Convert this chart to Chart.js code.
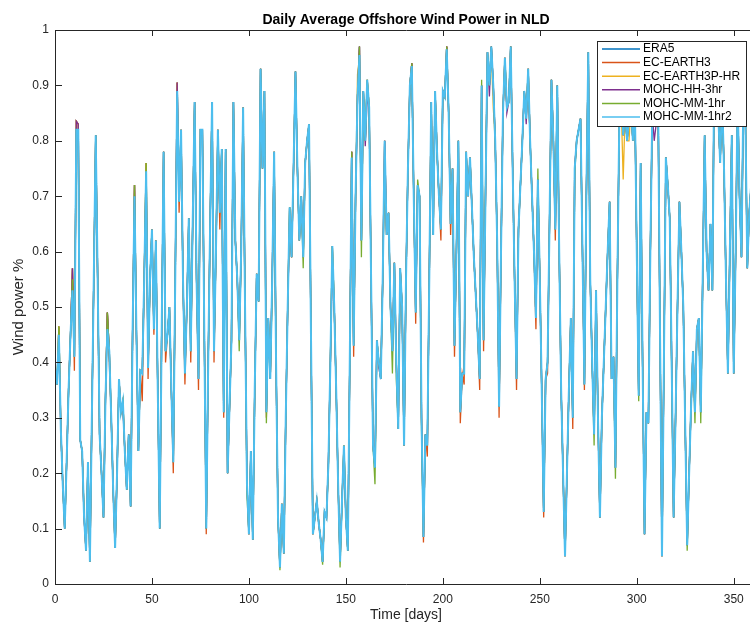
<!DOCTYPE html>
<html>
<head>
<meta charset="utf-8">
<title>Daily Average Offshore Wind Power in NLD</title>
<script src="https://cdn.jsdelivr.net/npm/chart.js@4.4.0/dist/chart.umd.min.js"></script>
<style>
    html, body { margin: 0; padding: 0; background: #ffffff; overflow: hidden; }
    #wrap { position: relative; width: 760px; height: 624px; }
</style>
</head>
<body>
<div id="wrap"><canvas id="windChart"></canvas></div>
<script>
const seriesNames = ['ERA5', 'EC-EARTH3', 'EC-EARTH3P-HR', 'MOHC-HH-3hr', 'MOHC-MM-1hr', 'MOHC-MM-1hr2'];
const seriesColors = ['#0072BD', '#D95319', '#EDB120', '#7E2F8E', '#77AC30', '#4DBEEE'];
const xTickValues = [0, 50, 100, 150, 200, 250, 300, 350];
const yTickLabels = ['0', '0.1', '0.2', '0.3', '0.4', '0.5', '0.6', '0.7', '0.8', '0.9', '1'];
const chartTitle = 'Daily Average Offshore Wind Power in NLD';

const era5 = [
    0.39,0.36,0.465,0.28,0.18,0.10,0.22,0.35,0.45,0.57,
    0.41,0.835,0.83,0.26,0.24,0.12,0.06,0.22,0.04,0.30,
    0.55,0.81,0.55,0.27,0.20,0.12,0.33,0.49,0.42,0.30,
    0.17,0.065,0.20,0.37,0.31,0.33,0.24,0.17,0.27,0.14,
    0.45,0.72,0.45,0.24,0.385,0.38,0.55,0.76,0.39,0.55,
    0.64,0.46,0.62,0.35,0.10,0.45,0.78,0.42,0.45,0.50,
    0.35,0.22,0.55,0.905,0.69,0.82,0.55,0.38,0.50,0.66,
    0.42,0.65,0.87,0.55,0.37,0.82,0.82,0.45,0.10,0.40,
    0.65,0.87,0.42,0.60,0.82,0.67,0.785,0.31,0.785,0.20,
    0.32,0.44,0.87,0.62,0.55,0.44,0.60,0.86,0.50,0.18,
    0.09,0.24,0.08,0.35,0.56,0.51,0.93,0.75,0.89,0.31,
    0.48,0.37,0.55,0.78,0.40,0.12,0.03,0.145,0.055,0.30,
    0.50,0.68,0.59,0.75,0.925,0.75,0.62,0.70,0.59,0.76,
    0.80,0.83,0.45,0.09,0.12,0.15,0.11,0.08,0.04,0.13,
    0.12,0.22,0.40,0.61,0.50,0.35,0.18,0.04,0.15,0.25,
    0.12,0.06,0.40,0.78,0.43,0.70,0.88,0.97,0.62,0.89,
    0.80,0.91,0.86,0.55,0.25,0.21,0.44,0.40,0.37,0.55,
    0.80,0.63,0.67,0.50,0.42,0.58,0.40,0.28,0.57,0.50,
    0.25,0.55,0.75,0.90,0.94,0.70,0.49,0.72,0.70,0.30,
    0.085,0.27,0.25,0.55,0.87,0.63,0.89,0.78,0.70,0.64,
    0.89,0.88,0.97,0.85,0.65,0.75,0.43,0.60,0.80,0.31,
    0.38,0.38,0.78,0.70,0.77,0.68,0.59,0.52,0.45,0.37,
    0.90,0.44,0.70,0.96,0.90,0.97,0.90,0.80,0.62,0.32,
    0.60,0.85,0.95,0.86,0.87,0.97,0.75,0.55,0.37,0.64,
    0.72,0.80,0.89,0.84,0.93,0.80,0.70,0.60,0.48,0.73,
    0.55,0.35,0.13,0.37,0.40,0.65,0.91,0.80,0.64,0.90,
    0.60,0.35,0.20,0.05,0.20,0.35,0.48,0.30,0.75,0.80,
    0.82,0.84,0.60,0.36,0.70,0.96,0.55,0.40,0.27,0.53,
    0.30,0.12,0.30,0.40,0.50,0.60,0.69,0.37,0.41,0.21,
    0.55,0.84,0.90,0.81,0.85,0.80,0.84,0.86,0.80,0.87,
    0.60,0.34,0.76,0.40,0.09,0.31,0.29,0.60,0.85,0.83,
    0.83,0.87,0.45,0.05,0.40,0.77,0.72,0.66,0.40,0.12,
    0.30,0.50,0.69,0.60,0.50,0.28,0.07,0.20,0.32,0.42,
    0.31,0.46,0.48,0.31,0.55,0.81,0.60,0.53,0.65,0.53,
    0.95,0.92,0.85,0.76,0.88,0.75,0.55,0.38,0.60,0.81,
    0.38,0.60,0.88,0.70,0.59,0.89,0.85,0.57,0.67,0.72,0.65
];

const ecEarth3 = [
    0.39,0.36,0.465,0.28,0.18,0.10,0.22,0.35,0.45,0.57,
    0.385,0.835,0.83,0.26,0.24,0.12,0.06,0.22,0.04,0.30,
    0.55,0.81,0.55,0.27,0.20,0.12,0.33,0.49,0.40,0.30,
    0.17,0.065,0.20,0.37,0.31,0.33,0.24,0.17,0.27,0.14,
    0.45,0.72,0.45,0.24,0.385,0.33,0.55,0.76,0.37,0.55,
    0.64,0.45,0.62,0.35,0.10,0.45,0.78,0.40,0.45,0.50,
    0.35,0.20,0.55,0.905,0.67,0.82,0.55,0.36,0.50,0.66,
    0.40,0.65,0.87,0.55,0.35,0.82,0.82,0.45,0.09,0.40,
    0.65,0.87,0.40,0.60,0.82,0.64,0.785,0.30,0.785,0.20,
    0.32,0.44,0.87,0.62,0.55,0.44,0.60,0.86,0.50,0.18,
    0.09,0.24,0.08,0.35,0.56,0.51,0.93,0.75,0.89,0.30,
    0.48,0.37,0.55,0.78,0.40,0.12,0.03,0.145,0.055,0.30,
    0.50,0.68,0.59,0.75,0.925,0.75,0.62,0.70,0.59,0.76,
    0.80,0.83,0.45,0.09,0.12,0.15,0.11,0.08,0.04,0.13,
    0.12,0.22,0.40,0.61,0.50,0.35,0.18,0.04,0.15,0.25,
    0.12,0.06,0.40,0.78,0.41,0.70,0.88,0.97,0.62,0.89,
    0.80,0.91,0.86,0.55,0.25,0.21,0.44,0.40,0.37,0.55,
    0.80,0.63,0.67,0.50,0.42,0.58,0.40,0.28,0.57,0.50,
    0.25,0.55,0.75,0.90,0.94,0.70,0.47,0.72,0.70,0.30,
    0.075,0.27,0.23,0.55,0.87,0.63,0.89,0.78,0.70,0.62,
    0.89,0.88,0.97,0.85,0.63,0.75,0.41,0.60,0.80,0.29,
    0.38,0.36,0.78,0.70,0.77,0.68,0.59,0.52,0.45,0.35,
    0.90,0.42,0.70,0.96,0.90,0.97,0.90,0.80,0.62,0.30,
    0.60,0.85,0.95,0.86,0.87,0.97,0.75,0.55,0.35,0.64,
    0.72,0.80,0.89,0.84,0.93,0.80,0.70,0.60,0.46,0.73,
    0.55,0.35,0.12,0.37,0.38,0.65,0.91,0.80,0.62,0.90,
    0.60,0.35,0.20,0.05,0.20,0.35,0.48,0.28,0.75,0.80,
    0.82,0.84,0.60,0.35,0.70,0.96,0.55,0.40,0.27,0.53,
    0.30,0.12,0.30,0.40,0.50,0.60,0.69,0.37,0.41,0.21,
    0.55,0.84,0.90,0.81,0.85,0.80,0.84,0.86,0.80,0.87,
    0.60,0.34,0.76,0.40,0.09,0.31,0.29,0.60,0.85,0.83,
    0.83,0.87,0.45,0.05,0.40,0.77,0.72,0.66,0.40,0.12,
    0.30,0.50,0.69,0.60,0.50,0.28,0.07,0.20,0.32,0.42,
    0.31,0.46,0.48,0.31,0.55,0.81,0.60,0.53,0.65,0.53,
    0.95,0.92,0.85,0.76,0.88,0.75,0.55,0.38,0.60,0.81,
    0.38,0.60,0.88,0.70,0.59,0.89,0.85,0.57,0.67,0.72,0.65
];

const ecEarth3pHr = [
    0.39,0.36,0.465,0.28,0.18,0.10,0.22,0.35,0.45,0.57,
    0.41,0.835,0.83,0.26,0.24,0.12,0.06,0.22,0.04,0.30,
    0.55,0.81,0.55,0.27,0.20,0.12,0.33,0.49,0.42,0.30,
    0.17,0.065,0.20,0.37,0.31,0.33,0.24,0.17,0.27,0.14,
    0.45,0.72,0.45,0.24,0.385,0.38,0.55,0.76,0.39,0.55,
    0.64,0.46,0.62,0.35,0.10,0.45,0.78,0.42,0.45,0.50,
    0.35,0.22,0.55,0.905,0.69,0.82,0.55,0.38,0.50,0.66,
    0.42,0.65,0.87,0.55,0.37,0.82,0.82,0.45,0.10,0.40,
    0.65,0.87,0.42,0.60,0.82,0.67,0.785,0.31,0.785,0.20,
    0.32,0.44,0.87,0.62,0.55,0.44,0.60,0.86,0.50,0.18,
    0.09,0.24,0.08,0.35,0.56,0.51,0.93,0.75,0.89,0.31,
    0.48,0.37,0.55,0.78,0.40,0.12,0.03,0.145,0.055,0.30,
    0.50,0.68,0.59,0.75,0.925,0.75,0.62,0.70,0.59,0.76,
    0.80,0.83,0.45,0.09,0.12,0.15,0.11,0.08,0.04,0.13,
    0.12,0.22,0.40,0.61,0.50,0.35,0.18,0.04,0.15,0.25,
    0.12,0.06,0.40,0.78,0.43,0.70,0.92,0.95,0.62,0.89,
    0.80,0.91,0.86,0.55,0.25,0.21,0.44,0.40,0.37,0.55,
    0.80,0.63,0.67,0.50,0.42,0.58,0.40,0.28,0.57,0.50,
    0.25,0.55,0.75,0.90,0.94,0.70,0.49,0.72,0.70,0.30,
    0.085,0.27,0.25,0.55,0.87,0.63,0.89,0.78,0.70,0.64,
    0.89,0.88,0.97,0.85,0.65,0.75,0.43,0.60,0.80,0.31,
    0.38,0.38,0.78,0.70,0.77,0.68,0.59,0.52,0.45,0.37,
    0.90,0.44,0.70,0.96,0.90,0.96,0.86,0.80,0.62,0.32,
    0.60,0.85,0.95,0.86,0.87,0.97,0.75,0.55,0.37,0.64,
    0.72,0.80,0.89,0.84,0.93,0.80,0.70,0.60,0.48,0.73,
    0.55,0.35,0.13,0.37,0.40,0.65,0.91,0.80,0.64,0.90,
    0.60,0.35,0.20,0.05,0.20,0.35,0.48,0.30,0.75,0.80,
    0.82,0.84,0.60,0.36,0.70,0.96,0.55,0.40,0.27,0.53,
    0.30,0.12,0.30,0.40,0.50,0.60,0.69,0.37,0.41,0.21,
    0.55,0.84,0.86,0.73,0.85,0.80,0.80,0.86,0.80,0.87,
    0.60,0.34,0.76,0.40,0.09,0.31,0.29,0.60,0.85,0.83,
    0.83,0.87,0.45,0.05,0.40,0.77,0.72,0.66,0.40,0.12,
    0.30,0.50,0.69,0.60,0.50,0.28,0.07,0.20,0.32,0.42,
    0.31,0.46,0.48,0.31,0.55,0.81,0.60,0.53,0.65,0.53,
    0.95,0.92,0.85,0.76,0.88,0.75,0.55,0.38,0.60,0.81,
    0.38,0.60,0.88,0.70,0.59,0.89,0.85,0.57,0.67,0.70,0.65
];

const mohcHH3hr = [
    0.39,0.36,0.44,0.28,0.18,0.10,0.22,0.35,0.45,0.57,
    0.41,0.835,0.83,0.26,0.24,0.12,0.06,0.22,0.04,0.30,
    0.55,0.81,0.55,0.27,0.20,0.12,0.33,0.49,0.42,0.30,
    0.17,0.065,0.20,0.37,0.31,0.32,0.24,0.17,0.27,0.14,
    0.45,0.72,0.45,0.24,0.385,0.38,0.55,0.74,0.39,0.55,
    0.64,0.46,0.62,0.35,0.10,0.45,0.78,0.42,0.45,0.50,
    0.35,0.22,0.55,0.905,0.69,0.82,0.55,0.38,0.50,0.66,
    0.42,0.65,0.87,0.55,0.37,0.82,0.82,0.45,0.10,0.40,
    0.65,0.87,0.42,0.60,0.82,0.67,0.785,0.31,0.785,0.20,
    0.32,0.44,0.87,0.62,0.55,0.44,0.60,0.86,0.50,0.18,
    0.09,0.24,0.08,0.35,0.56,0.51,0.93,0.75,0.89,0.31,
    0.48,0.37,0.55,0.78,0.40,0.12,0.03,0.145,0.055,0.30,
    0.50,0.66,0.59,0.75,0.925,0.75,0.62,0.70,0.59,0.76,
    0.80,0.83,0.45,0.09,0.12,0.15,0.11,0.08,0.04,0.13,
    0.12,0.22,0.40,0.58,0.50,0.35,0.18,0.04,0.15,0.24,
    0.12,0.06,0.40,0.78,0.43,0.70,0.88,0.97,0.62,0.89,
    0.79,0.88,0.86,0.55,0.25,0.21,0.44,0.39,0.37,0.55,
    0.80,0.63,0.67,0.50,0.42,0.58,0.40,0.28,0.57,0.50,
    0.25,0.55,0.75,0.90,0.94,0.70,0.49,0.72,0.70,0.30,
    0.085,0.27,0.25,0.55,0.87,0.63,0.89,0.78,0.70,0.64,
    0.89,0.88,0.97,0.85,0.65,0.75,0.43,0.60,0.80,0.31,
    0.38,0.38,0.78,0.70,0.77,0.68,0.59,0.52,0.45,0.37,
    0.90,0.44,0.70,0.96,0.88,0.97,0.90,0.80,0.62,0.32,
    0.60,0.85,0.95,0.85,0.87,0.97,0.75,0.55,0.37,0.64,
    0.72,0.80,0.89,0.83,0.93,0.80,0.70,0.60,0.48,0.73,
    0.55,0.35,0.13,0.37,0.40,0.65,0.91,0.80,0.64,0.90,
    0.60,0.35,0.20,0.05,0.20,0.35,0.48,0.30,0.75,0.80,
    0.82,0.84,0.60,0.36,0.70,0.96,0.55,0.40,0.27,0.53,
    0.30,0.12,0.30,0.40,0.50,0.60,0.69,0.37,0.41,0.21,
    0.55,0.84,0.90,0.81,0.85,0.80,0.84,0.86,0.80,0.87,
    0.60,0.34,0.76,0.40,0.09,0.31,0.29,0.60,0.85,0.80,
    0.83,0.87,0.45,0.05,0.40,0.77,0.72,0.66,0.40,0.12,
    0.30,0.50,0.69,0.60,0.50,0.28,0.07,0.20,0.32,0.42,
    0.31,0.46,0.48,0.31,0.55,0.81,0.60,0.53,0.65,0.53,
    0.95,0.92,0.85,0.76,0.88,0.75,0.55,0.38,0.60,0.81,
    0.38,0.60,0.88,0.70,0.59,0.89,0.85,0.57,0.67,0.72,0.65
];

const mohcMM1hr = [
    0.39,0.36,0.465,0.28,0.18,0.10,0.22,0.35,0.45,0.55,
    0.41,0.82,0.82,0.26,0.24,0.13,0.06,0.22,0.04,0.30,
    0.55,0.81,0.55,0.27,0.20,0.12,0.33,0.49,0.42,0.30,
    0.17,0.065,0.20,0.37,0.31,0.33,0.24,0.17,0.27,0.14,
    0.45,0.72,0.45,0.24,0.385,0.38,0.55,0.76,0.39,0.55,
    0.64,0.46,0.62,0.35,0.10,0.45,0.78,0.42,0.45,0.50,
    0.35,0.22,0.55,0.88,0.69,0.82,0.55,0.38,0.50,0.66,
    0.42,0.65,0.87,0.55,0.37,0.82,0.82,0.45,0.10,0.40,
    0.65,0.87,0.42,0.60,0.82,0.67,0.785,0.31,0.785,0.20,
    0.32,0.44,0.87,0.62,0.55,0.42,0.60,0.86,0.50,0.16,
    0.09,0.24,0.08,0.35,0.56,0.51,0.93,0.75,0.89,0.29,
    0.48,0.37,0.53,0.78,0.40,0.12,0.025,0.145,0.055,0.30,
    0.50,0.68,0.59,0.75,0.925,0.75,0.62,0.70,0.57,0.76,
    0.80,0.83,0.45,0.09,0.12,0.15,0.11,0.08,0.035,0.13,
    0.12,0.21,0.40,0.61,0.50,0.35,0.18,0.03,0.15,0.25,
    0.12,0.06,0.40,0.78,0.43,0.70,0.88,0.97,0.59,0.89,
    0.80,0.91,0.86,0.55,0.25,0.18,0.44,0.40,0.37,0.55,
    0.77,0.63,0.67,0.50,0.38,0.58,0.37,0.28,0.57,0.50,
    0.25,0.55,0.75,0.90,0.94,0.70,0.49,0.73,0.70,0.28,
    0.085,0.27,0.25,0.55,0.87,0.63,0.89,0.78,0.70,0.64,
    0.89,0.88,0.97,0.85,0.65,0.75,0.43,0.60,0.80,0.31,
    0.38,0.38,0.78,0.70,0.77,0.68,0.59,0.52,0.45,0.37,
    0.91,0.44,0.72,0.96,0.90,0.97,0.90,0.80,0.62,0.32,
    0.60,0.85,0.95,0.86,0.87,0.97,0.75,0.55,0.37,0.64,
    0.72,0.80,0.89,0.84,0.93,0.80,0.70,0.60,0.48,0.75,
    0.55,0.35,0.13,0.37,0.40,0.65,0.91,0.80,0.64,0.90,
    0.60,0.35,0.20,0.05,0.20,0.35,0.48,0.30,0.74,0.80,
    0.82,0.84,0.60,0.36,0.70,0.96,0.55,0.40,0.25,0.53,
    0.30,0.12,0.30,0.40,0.50,0.60,0.69,0.37,0.41,0.19,
    0.55,0.84,0.90,0.81,0.85,0.80,0.84,0.86,0.80,0.87,
    0.60,0.33,0.76,0.40,0.09,0.31,0.29,0.60,0.85,0.83,
    0.83,0.87,0.45,0.05,0.40,0.77,0.72,0.66,0.38,0.12,
    0.30,0.50,0.69,0.60,0.50,0.28,0.06,0.20,0.32,0.42,
    0.29,0.46,0.48,0.29,0.55,0.81,0.60,0.53,0.65,0.53,
    0.95,0.92,0.85,0.76,0.88,0.75,0.55,0.38,0.60,0.81,
    0.38,0.60,0.88,0.70,0.59,0.89,0.85,0.57,0.67,0.72,0.65
];

const mohcMM1hr2 = [
    0.39,0.36,0.45,0.28,0.18,0.10,0.22,0.35,0.45,0.53,
    0.41,0.82,0.82,0.26,0.24,0.12,0.06,0.22,0.04,0.30,
    0.55,0.81,0.55,0.27,0.20,0.12,0.33,0.46,0.42,0.30,
    0.17,0.065,0.20,0.37,0.31,0.33,0.24,0.17,0.27,0.14,
    0.45,0.70,0.45,0.24,0.385,0.38,0.55,0.745,0.39,0.55,
    0.64,0.46,0.62,0.35,0.10,0.45,0.78,0.42,0.45,0.50,
    0.35,0.22,0.55,0.89,0.69,0.82,0.55,0.38,0.50,0.66,
    0.42,0.65,0.87,0.55,0.37,0.82,0.82,0.45,0.10,0.40,
    0.65,0.87,0.42,0.60,0.82,0.67,0.785,0.31,0.785,0.20,
    0.32,0.44,0.87,0.62,0.55,0.44,0.60,0.86,0.50,0.18,
    0.09,0.24,0.08,0.35,0.56,0.51,0.93,0.75,0.89,0.31,
    0.48,0.37,0.55,0.78,0.40,0.12,0.03,0.145,0.055,0.30,
    0.50,0.68,0.59,0.75,0.925,0.75,0.62,0.70,0.59,0.76,
    0.80,0.83,0.45,0.09,0.12,0.15,0.11,0.08,0.04,0.13,
    0.12,0.22,0.40,0.61,0.50,0.35,0.18,0.04,0.15,0.25,
    0.12,0.06,0.40,0.77,0.43,0.70,0.88,0.955,0.62,0.89,
    0.80,0.91,0.86,0.55,0.25,0.21,0.44,0.40,0.37,0.55,
    0.80,0.63,0.67,0.50,0.42,0.58,0.40,0.28,0.57,0.50,
    0.25,0.55,0.75,0.90,0.935,0.70,0.49,0.72,0.70,0.30,
    0.085,0.27,0.25,0.55,0.87,0.63,0.89,0.78,0.70,0.64,
    0.89,0.88,0.965,0.85,0.65,0.75,0.43,0.60,0.80,0.31,
    0.38,0.38,0.78,0.70,0.77,0.68,0.59,0.52,0.45,0.37,
    0.90,0.44,0.70,0.96,0.90,0.97,0.90,0.80,0.62,0.32,
    0.60,0.85,0.95,0.86,0.87,0.97,0.75,0.55,0.37,0.64,
    0.72,0.80,0.89,0.84,0.93,0.80,0.70,0.60,0.48,0.73,
    0.55,0.35,0.13,0.37,0.40,0.65,0.91,0.80,0.64,0.90,
    0.60,0.35,0.20,0.05,0.20,0.35,0.48,0.30,0.75,0.80,
    0.82,0.84,0.60,0.36,0.70,0.96,0.55,0.40,0.27,0.53,
    0.30,0.12,0.30,0.40,0.50,0.60,0.69,0.37,0.41,0.21,
    0.55,0.84,0.90,0.81,0.85,0.80,0.84,0.86,0.80,0.87,
    0.60,0.34,0.76,0.40,0.09,0.31,0.29,0.60,0.85,0.83,
    0.83,0.87,0.45,0.05,0.40,0.77,0.72,0.66,0.40,0.12,
    0.30,0.50,0.69,0.60,0.50,0.28,0.07,0.20,0.32,0.42,
    0.31,0.46,0.48,0.31,0.55,0.81,0.60,0.53,0.65,0.53,
    0.95,0.92,0.85,0.76,0.88,0.75,0.55,0.38,0.60,0.81,
    0.38,0.60,0.88,0.70,0.59,0.89,0.85,0.57,0.67,0.72,0.65
];

const allSeries = [era5, ecEarth3, ecEarth3pHr, mohcHH3hr, mohcMM1hr, mohcMM1hr2];
const days = era5.map((v, i) => i);

const FONT = "'Liberation Sans', Arial, Helvetica, sans-serif";
const TXT = '#262626';

// box round the axes, inward ticks, title and the legend box (matlab style)
const matlabBox = {
    id: 'matlabBox',
    afterDatasetsDraw(chart) {
        const ctx = chart.ctx;
        const a = chart.chartArea;
        const xs = chart.scales.x, ys = chart.scales.y;
        ctx.save();
        ctx.strokeStyle = TXT;
        ctx.lineWidth = 1;
        ctx.beginPath();
        ctx.moveTo(a.left + 0.5, a.bottom + 0.5);
        ctx.lineTo(a.left + 0.5, a.top + 0.5);
        ctx.lineTo(a.right + 0.5, a.top + 0.5);
        ctx.lineTo(a.right + 0.5, a.bottom + 0.5);
        ctx.lineTo(a.left + 0.5, a.bottom + 0.5);
        xs.ticks.forEach(t => {
            const px = Math.round(xs.getPixelForValue(t.value)) + 0.5;
            ctx.moveTo(px, a.bottom); ctx.lineTo(px, a.bottom - 6);
            ctx.moveTo(px, a.top); ctx.lineTo(px, a.top + 6);
        });
        ys.ticks.forEach(t => {
            const py = Math.round(ys.getPixelForValue(t.value)) + 0.5;
            ctx.moveTo(a.left, py); ctx.lineTo(a.left + 7, py);
            ctx.moveTo(a.right, py); ctx.lineTo(a.right - 7, py);
        });
        ctx.stroke();

        // title, centred over the axes
        ctx.fillStyle = '#000000';
        ctx.font = 'bold 14px ' + FONT;
        ctx.textAlign = 'center';
        ctx.textBaseline = 'alphabetic';
        ctx.fillText(chartTitle, (a.left + a.right) / 2, 24);

        // legend
        const lx = 597, ly = 41, lw = 149, lh = 85;
        ctx.fillStyle = '#ffffff';
        ctx.fillRect(lx, ly, lw, lh);
        ctx.strokeStyle = TXT;
        ctx.strokeRect(lx + 0.5, ly + 0.5, lw, lh);
        ctx.font = '12px ' + FONT;
        ctx.textBaseline = 'middle';
        ctx.textAlign = 'left';
        chart.data.datasets.forEach((ds, i) => {
            const yy = ly + 8 + i * 13.6;
            ctx.strokeStyle = ds.borderColor;
            ctx.lineWidth = 1.5;
            ctx.beginPath();
            ctx.moveTo(lx + 5, yy);
            ctx.lineTo(lx + 43, yy);
            ctx.stroke();
            ctx.fillStyle = '#000000';
            ctx.fillText(ds.label, lx + 46, yy);
        });
        ctx.restore();
    }
};

function drawChart() {
    const datasets = seriesNames.map((name, i) => ({
        label: name,
        data: allSeries[i],
        borderColor: seriesColors[i],
        backgroundColor: seriesColors[i],
        borderWidth: i === seriesNames.length - 1 ? 2 : 1.3,
        pointRadius: 0,
        tension: 0,
        fill: false,
        order: seriesNames.length - i
    }));

    new Chart(document.getElementById('windChart'), {
        type: 'line',
        data: { labels: days, datasets: datasets },
        options: {
            responsive: true,
            maintainAspectRatio: false,
            animation: false,
            events: [],
            layout: { padding: { left: 0, right: 3, top: 30, bottom: 0 } },
            plugins: {
                legend: { display: false },
                tooltip: { enabled: false },
                title: { display: false }
            },
            scales: {
                x: {
                    type: 'linear',
                    min: 0,
                    max: 362,
                    grid: { display: false, drawTicks: false },
                    border: { display: false },
                    afterBuildTicks: s => { s.ticks = xTickValues.map(v => ({ value: v })); },
                    afterFit: s => { s.height = 40; },
                    ticks: {
                        color: TXT,
                        font: { family: FONT, size: 12 },
                        padding: 8,
                        maxRotation: 0,
                        autoSkip: false
                    },
                    title: {
                        display: true,
                        text: 'Time [days]',
                        color: TXT,
                        font: { family: FONT, size: 14 },
                        padding: { top: 0, bottom: 0 }
                    }
                },
                y: {
                    min: 0,
                    max: 1,
                    grid: { display: false, drawTicks: false },
                    border: { display: false },
                    afterFit: s => { s.width = 55; },
                    ticks: {
                        stepSize: 0.1,
                        color: TXT,
                        font: { family: FONT, size: 12 },
                        padding: 6,
                        callback: (v, i) => yTickLabels[i]
                    },
                    title: {
                        display: true,
                        text: 'Wind power %',
                        color: TXT,
                        font: { family: FONT, size: 15 },
                        padding: { top: 10, bottom: 0 }
                    }
                }
            }
        },
        plugins: [matlabBox]
    });
}

drawChart();
</script>
</body>
</html>
